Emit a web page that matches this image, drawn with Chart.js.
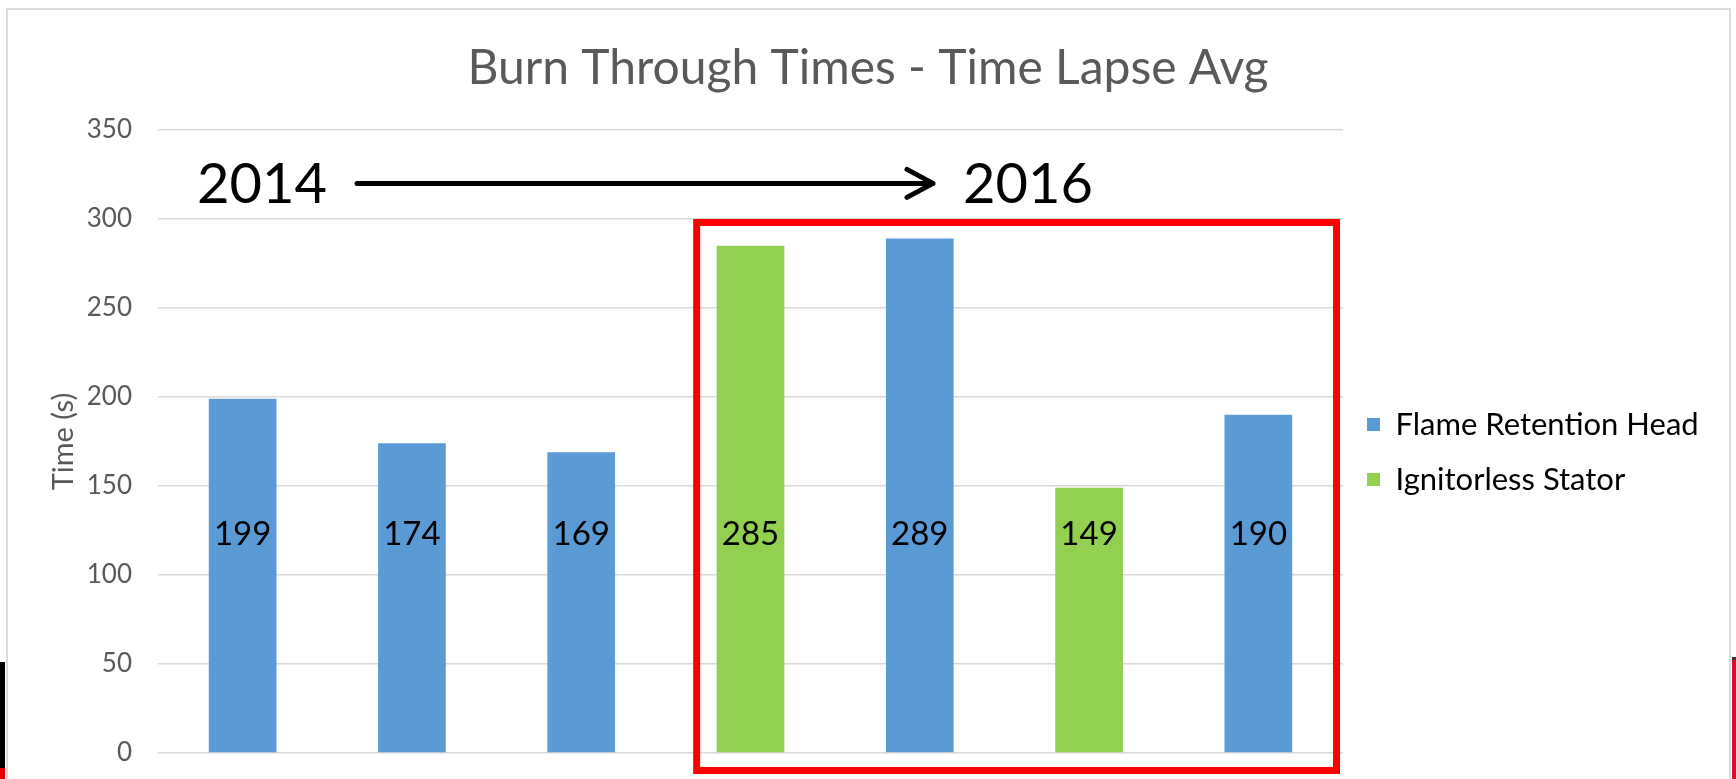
<!DOCTYPE html>
<html>
<head>
<meta charset="utf-8">
<title>Burn Through Times - Time Lapse Avg</title>
<script src="https://cdn.jsdelivr.net/npm/chart.js@4.4.0/dist/chart.umd.min.js"></script>
<style>
  html, body { margin: 0; padding: 0; background: #fff; overflow: hidden; }
  #wrap { position: relative; width: 1736px; height: 779px; }
  #frame { position: absolute; left: 6px; top: 8px; width: 1721px; height: 800px; border: 2px solid #dcdcdc; border-bottom: none; }
  .edge { position: absolute; }
  #chartBox { position: absolute; left: 0; top: 0; width: 1736px; height: 779px; }
</style>
</head>
<body>
<div id="wrap">
  <div id="frame"></div>
  <div class="edge" style="left:0;top:662px;width:5px;height:106px;background:#000"></div>
  <div class="edge" style="left:0;top:768px;width:5px;height:11px;background:#e00000"></div>
  <div class="edge" style="left:1732px;top:657px;width:4px;height:3px;background:#333"></div>
  <div class="edge" style="left:1732px;top:660px;width:4px;height:119px;background:#d8102c"></div>
  <div id="chartBox"><canvas id="burnChart"></canvas></div>
</div>
<script>
const categories = ["1", "2", "3", "4", "5", "6", "7"];
const flameRetentionHead = [199, 174, 169, null, 289, null, 190];
const ignitorlessStator = [null, null, null, 285, null, 149, null];
const seriesNames = ["Flame Retention Head", "Ignitorless Stator"];
const seriesColors = ["#5b9bd5", "#92d050"];
const yMax = 350;
const yStep = 50;
const labelLevel = 123;   // value level where the numbers sit inside the bars

const FONT = "Lato";
const GREY = "#595959";

// legend sits right of the plot; work out the right padding so the plot ends where it should
const legendFontSize = 31;
const legendPad = 24;
const measureCtx = document.createElement("canvas").getContext("2d");
measureCtx.font = legendFontSize + "px " + FONT;
const legendTextWidth = Math.max(...seriesNames.map(n => measureCtx.measureText(n).width));
const legendWidth = legendPad + 13 + legendFontSize / 2 + legendTextWidth + 10;
const plotRight = 1343;
const rightPad = Math.max(0, 1736 - plotRight - legendWidth);

const annotations = {
  id: "annotations",
  afterLayout(chart) {
    // keep the title centred on the whole canvas, not on the padded box
    if (chart.titleBlock) {
      chart.titleBlock.left = 0;
      chart.titleBlock.right = chart.width;
      chart.titleBlock.width = chart.width;
    }
  },
  afterDatasetsDraw(chart) {
    const { ctx, chartArea, scales: { x, y } } = chart;
    ctx.save();

    // numbers inside bars
    ctx.font = "33px " + FONT;
    ctx.fillStyle = "#000";
    ctx.textAlign = "center";
    ctx.textBaseline = "middle";
    chart.data.datasets.forEach((ds, i) => {
      const meta = chart.getDatasetMeta(i);
      meta.data.forEach((bar, j) => {
        if (ds.data[j] == null) return;
        ctx.fillText(String(ds.data[j]), bar.x, y.getPixelForValue(labelLevel));
      });
    });

    // 2014 ---> 2016
    const base = y.getPixelForValue(309);
    const arrowY = y.getPixelForValue(320);
    ctx.font = "56px " + FONT;
    ctx.textAlign = "left";
    ctx.textBaseline = "alphabetic";
    ctx.fillText("2014", chartArea.left + 39, base);
    ctx.fillText("2016", chartArea.left + 805, base);

    const x0 = chartArea.left + 199;
    const x1 = chartArea.left + 775;
    ctx.strokeStyle = "#000";
    ctx.lineWidth = 5;
    ctx.lineCap = "round";
    ctx.lineJoin = "round";
    ctx.beginPath();
    ctx.moveTo(x0, arrowY);
    ctx.lineTo(x1, arrowY);
    ctx.moveTo(x1 - 26, arrowY - 14);
    ctx.lineTo(x1, arrowY);
    ctx.lineTo(x1 - 26, arrowY + 14);
    ctx.stroke();

    // red box around the 2016 tests
    const firstBar = chart.getDatasetMeta(1).data[3];
    const boxLeft = firstBar.x - firstBar.width / 2 - 20;
    const boxTop = y.getPixelForValue(300) + 3.5;
    const boxRight = chartArea.right - 6.5;
    const boxBottom = chartArea.bottom + 17.5;
    ctx.strokeStyle = "#ff0000";
    ctx.lineWidth = 7;
    ctx.lineCap = "butt";
    ctx.lineJoin = "miter";
    ctx.strokeRect(boxLeft, boxTop, boxRight - boxLeft, boxBottom - boxTop);

    ctx.restore();
  }
};

const ctx = document.getElementById("burnChart").getContext("2d");
const burnChart = new Chart(ctx, {
  type: "bar",
  data: {
    labels: categories,
    datasets: [
      {
        label: seriesNames[0],
        data: flameRetentionHead,
        backgroundColor: seriesColors[0]
      },
      {
        label: seriesNames[1],
        data: ignitorlessStator,
        backgroundColor: seriesColors[1]
      }
    ]
  },
  options: {
    responsive: true,
    maintainAspectRatio: false,
    animation: false,
    layout: {
      padding: { left: 0, top: 0, right: rightPad, bottom: 26 }
    },
    datasets: {
      bar: {
        grouped: false,
        categoryPercentage: 0.4,
        barPercentage: 1
      }
    },
    plugins: {
      title: {
        display: true,
        text: "Burn Through Times - Time Lapse Avg",
        color: GREY,
        font: { family: FONT, size: 48, weight: "normal" },
        padding: { top: 40, bottom: 32.4 }
      },
      legend: {
        position: "right",
        fullSize: false,
        title: {
          display: true,
          text: " ",
          font: { size: 11, lineHeight: 1 },
          padding: { top: 5, bottom: 5 }
        },
        labels: {
          color: "#000",
          font: { family: FONT, size: legendFontSize },
          boxWidth: 13,
          boxHeight: 13,
          padding: legendPad
        }
      },
      tooltip: { enabled: false }
    },
    scales: {
      x: {
        display: false
      },
      y: {
        min: 0,
        max: yMax,
        ticks: {
          stepSize: yStep,
          padding: 26,
          color: GREY,
          font: { family: FONT, size: 26 }
        },
        grid: {
          color: "#d9d9d9",
          lineWidth: 1.5,
          drawTicks: false
        },
        border: { display: false },
        title: {
          display: true,
          text: "Time (s)",
          color: GREY,
          font: { family: FONT, size: 29 },
          padding: { top: 46, bottom: 0 }
        },
        afterFit(scale) {
          scale.width = 158;
          scale.paddingTop = 0;
          scale.paddingBottom = 0;
        }
      }
    }
  },
  plugins: [annotations]
});
</script>
</body>
</html>
